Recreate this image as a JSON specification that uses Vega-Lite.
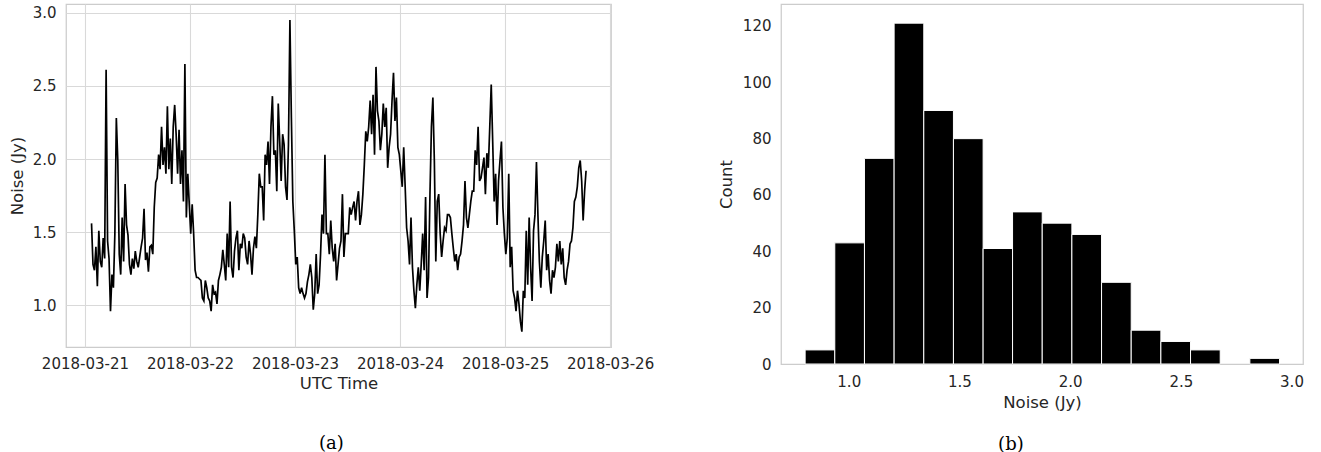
{
  "$schema": "https://vega.github.io/schema/vega-lite/v6.json",
  "padding": {"left": 8, "top": 3, "right": 5, "bottom": 5},
  "background": "white",
  "spacing": 170,
  "bounds": "flush",
  "datasets": {
    "series": [
      {"t":"2018-03-21T01:30Z","v":1.56},{"t":"2018-03-21T01:50Z","v":1.28},{"t":"2018-03-21T02:10Z","v":1.24},{"t":"2018-03-21T02:30Z","v":1.40},{"t":"2018-03-21T02:50Z","v":1.13},{"t":"2018-03-21T03:10Z","v":1.51},{"t":"2018-03-21T03:30Z","v":1.30},{"t":"2018-03-21T03:50Z","v":1.26},{"t":"2018-03-21T04:10Z","v":1.46},{"t":"2018-03-21T04:30Z","v":1.32},{"t":"2018-03-21T04:50Z","v":2.61},{"t":"2018-03-21T05:10Z","v":1.44},{"t":"2018-03-21T05:30Z","v":1.32},{"t":"2018-03-21T05:50Z","v":0.96},{"t":"2018-03-21T06:10Z","v":1.21},{"t":"2018-03-21T06:30Z","v":1.12},{"t":"2018-03-21T06:50Z","v":1.49},{"t":"2018-03-21T07:10Z","v":2.28},{"t":"2018-03-21T07:30Z","v":1.99},{"t":"2018-03-21T07:50Z","v":1.35},{"t":"2018-03-21T08:10Z","v":1.21},{"t":"2018-03-21T08:30Z","v":1.60},{"t":"2018-03-21T08:50Z","v":1.30},{"t":"2018-03-21T09:10Z","v":1.83},{"t":"2018-03-21T09:30Z","v":1.55},{"t":"2018-03-21T09:50Z","v":1.48},{"t":"2018-03-21T10:10Z","v":1.28},{"t":"2018-03-21T10:30Z","v":1.21},{"t":"2018-03-21T10:50Z","v":1.32},{"t":"2018-03-21T11:10Z","v":1.25},{"t":"2018-03-21T11:30Z","v":1.37},{"t":"2018-03-21T11:50Z","v":1.30},{"t":"2018-03-21T12:10Z","v":1.26},{"t":"2018-03-21T12:30Z","v":1.33},{"t":"2018-03-21T12:50Z","v":1.40},{"t":"2018-03-21T13:10Z","v":1.46},{"t":"2018-03-21T13:30Z","v":1.66},{"t":"2018-03-21T13:50Z","v":1.31},{"t":"2018-03-21T14:10Z","v":1.36},{"t":"2018-03-21T14:30Z","v":1.23},{"t":"2018-03-21T14:50Z","v":1.40},{"t":"2018-03-21T15:10Z","v":1.41},{"t":"2018-03-21T15:30Z","v":1.35},{"t":"2018-03-21T15:50Z","v":1.67},{"t":"2018-03-21T16:10Z","v":1.84},{"t":"2018-03-21T16:30Z","v":1.87},{"t":"2018-03-21T16:50Z","v":2.03},{"t":"2018-03-21T17:10Z","v":1.93},{"t":"2018-03-21T17:30Z","v":2.22},{"t":"2018-03-21T17:50Z","v":1.96},{"t":"2018-03-21T18:10Z","v":2.08},{"t":"2018-03-21T18:30Z","v":1.90},{"t":"2018-03-21T18:50Z","v":2.36},{"t":"2018-03-21T19:10Z","v":1.93},{"t":"2018-03-21T19:30Z","v":2.14},{"t":"2018-03-21T19:50Z","v":1.83},{"t":"2018-03-21T20:10Z","v":2.22},{"t":"2018-03-21T20:30Z","v":2.37},{"t":"2018-03-21T20:50Z","v":2.17},{"t":"2018-03-21T21:10Z","v":1.90},{"t":"2018-03-21T21:30Z","v":2.20},{"t":"2018-03-21T21:50Z","v":1.83},{"t":"2018-03-21T22:10Z","v":2.06},{"t":"2018-03-21T22:30Z","v":1.71},{"t":"2018-03-21T22:50Z","v":2.65},{"t":"2018-03-21T23:10Z","v":1.60},{"t":"2018-03-21T23:30Z","v":1.90},{"t":"2018-03-21T23:50Z","v":1.69},
      {"t":"2018-03-22T00:10Z","v":1.49},{"t":"2018-03-22T00:30Z","v":1.69},{"t":"2018-03-22T00:50Z","v":1.49},{"t":"2018-03-22T01:10Z","v":1.24},{"t":"2018-03-22T01:30Z","v":1.19},{"t":"2018-03-22T01:50Z","v":1.19},{"t":"2018-03-22T02:10Z","v":1.18},{"t":"2018-03-22T02:30Z","v":1.17},{"t":"2018-03-22T02:50Z","v":1.05},{"t":"2018-03-22T03:10Z","v":1.03},{"t":"2018-03-22T03:30Z","v":1.17},{"t":"2018-03-22T03:50Z","v":1.12},{"t":"2018-03-22T04:10Z","v":1.05},{"t":"2018-03-22T04:30Z","v":1.03},{"t":"2018-03-22T04:50Z","v":0.96},{"t":"2018-03-22T05:10Z","v":1.14},{"t":"2018-03-22T05:30Z","v":1.08},{"t":"2018-03-22T05:50Z","v":1.09},{"t":"2018-03-22T06:10Z","v":1.01},{"t":"2018-03-22T06:30Z","v":1.17},{"t":"2018-03-22T06:50Z","v":1.21},{"t":"2018-03-22T07:10Z","v":1.26},{"t":"2018-03-22T07:30Z","v":1.38},{"t":"2018-03-22T07:50Z","v":1.28},{"t":"2018-03-22T08:10Z","v":1.17},{"t":"2018-03-22T08:30Z","v":1.49},{"t":"2018-03-22T08:50Z","v":1.26},{"t":"2018-03-22T09:10Z","v":1.71},{"t":"2018-03-22T09:30Z","v":1.26},{"t":"2018-03-22T09:50Z","v":1.19},{"t":"2018-03-22T10:10Z","v":1.37},{"t":"2018-03-22T10:30Z","v":1.46},{"t":"2018-03-22T10:50Z","v":1.51},{"t":"2018-03-22T11:10Z","v":1.24},{"t":"2018-03-22T11:30Z","v":1.42},{"t":"2018-03-22T11:50Z","v":1.39},{"t":"2018-03-22T12:10Z","v":1.49},{"t":"2018-03-22T12:30Z","v":1.46},{"t":"2018-03-22T12:50Z","v":1.33},{"t":"2018-03-22T13:10Z","v":1.28},{"t":"2018-03-22T13:30Z","v":1.44},{"t":"2018-03-22T13:50Z","v":1.35},{"t":"2018-03-22T14:10Z","v":1.21},{"t":"2018-03-22T14:30Z","v":1.39},{"t":"2018-03-22T14:50Z","v":1.47},{"t":"2018-03-22T15:10Z","v":1.39},{"t":"2018-03-22T15:30Z","v":1.62},{"t":"2018-03-22T15:50Z","v":1.90},{"t":"2018-03-22T16:10Z","v":1.81},{"t":"2018-03-22T16:30Z","v":1.81},{"t":"2018-03-22T16:50Z","v":1.58},{"t":"2018-03-22T17:10Z","v":2.03},{"t":"2018-03-22T17:30Z","v":1.96},{"t":"2018-03-22T17:50Z","v":2.12},{"t":"2018-03-22T18:10Z","v":1.83},{"t":"2018-03-22T18:30Z","v":2.22},{"t":"2018-03-22T18:50Z","v":2.43},{"t":"2018-03-22T19:10Z","v":2.03},{"t":"2018-03-22T19:30Z","v":2.06},{"t":"2018-03-22T19:50Z","v":1.78},{"t":"2018-03-22T20:10Z","v":2.38},{"t":"2018-03-22T20:30Z","v":2.12},{"t":"2018-03-22T20:50Z","v":1.85},{"t":"2018-03-22T21:10Z","v":2.17},{"t":"2018-03-22T21:30Z","v":2.10},{"t":"2018-03-22T21:50Z","v":1.81},{"t":"2018-03-22T22:10Z","v":1.72},{"t":"2018-03-22T22:30Z","v":2.10},{"t":"2018-03-22T22:50Z","v":2.95},{"t":"2018-03-22T23:10Z","v":2.28},{"t":"2018-03-22T23:30Z","v":1.71},{"t":"2018-03-22T23:50Z","v":1.51},
      {"t":"2018-03-23T00:10Z","v":1.28},{"t":"2018-03-23T00:30Z","v":1.33},{"t":"2018-03-23T00:50Z","v":1.12},{"t":"2018-03-23T01:10Z","v":1.08},{"t":"2018-03-23T01:30Z","v":1.12},{"t":"2018-03-23T01:50Z","v":1.08},{"t":"2018-03-23T02:10Z","v":1.05},{"t":"2018-03-23T02:30Z","v":1.08},{"t":"2018-03-23T02:50Z","v":1.16},{"t":"2018-03-23T03:10Z","v":1.21},{"t":"2018-03-23T03:30Z","v":1.28},{"t":"2018-03-23T03:50Z","v":1.19},{"t":"2018-03-23T04:10Z","v":0.97},{"t":"2018-03-23T04:30Z","v":1.08},{"t":"2018-03-23T04:50Z","v":1.35},{"t":"2018-03-23T05:10Z","v":1.08},{"t":"2018-03-23T05:30Z","v":1.14},{"t":"2018-03-23T05:50Z","v":1.35},{"t":"2018-03-23T06:10Z","v":1.62},{"t":"2018-03-23T06:30Z","v":1.49},{"t":"2018-03-23T06:50Z","v":2.03},{"t":"2018-03-23T07:10Z","v":1.49},{"t":"2018-03-23T07:30Z","v":1.49},{"t":"2018-03-23T07:50Z","v":1.35},{"t":"2018-03-23T08:10Z","v":1.58},{"t":"2018-03-23T08:30Z","v":1.39},{"t":"2018-03-23T08:50Z","v":1.30},{"t":"2018-03-23T09:10Z","v":1.42},{"t":"2018-03-23T09:30Z","v":1.17},{"t":"2018-03-23T09:50Z","v":1.28},{"t":"2018-03-23T10:10Z","v":1.39},{"t":"2018-03-23T10:30Z","v":1.44},{"t":"2018-03-23T10:50Z","v":1.76},{"t":"2018-03-23T11:10Z","v":1.33},{"t":"2018-03-23T11:30Z","v":1.49},{"t":"2018-03-23T11:50Z","v":1.49},{"t":"2018-03-23T12:10Z","v":1.49},{"t":"2018-03-23T12:30Z","v":1.67},{"t":"2018-03-23T12:50Z","v":1.62},{"t":"2018-03-23T13:10Z","v":1.67},{"t":"2018-03-23T13:30Z","v":1.71},{"t":"2018-03-23T13:50Z","v":1.58},{"t":"2018-03-23T14:10Z","v":1.71},{"t":"2018-03-23T14:30Z","v":1.78},{"t":"2018-03-23T14:50Z","v":1.55},{"t":"2018-03-23T15:10Z","v":1.62},{"t":"2018-03-23T15:30Z","v":1.76},{"t":"2018-03-23T15:50Z","v":1.96},{"t":"2018-03-23T16:10Z","v":2.19},{"t":"2018-03-23T16:30Z","v":2.12},{"t":"2018-03-23T16:50Z","v":2.22},{"t":"2018-03-23T17:10Z","v":2.40},{"t":"2018-03-23T17:30Z","v":2.17},{"t":"2018-03-23T17:50Z","v":2.44},{"t":"2018-03-23T18:10Z","v":2.03},{"t":"2018-03-23T18:30Z","v":2.63},{"t":"2018-03-23T18:50Z","v":2.33},{"t":"2018-03-23T19:10Z","v":2.26},{"t":"2018-03-23T19:30Z","v":2.06},{"t":"2018-03-23T19:50Z","v":2.17},{"t":"2018-03-23T20:10Z","v":2.38},{"t":"2018-03-23T20:30Z","v":2.22},{"t":"2018-03-23T20:50Z","v":2.35},{"t":"2018-03-23T21:10Z","v":1.94},{"t":"2018-03-23T21:30Z","v":2.08},{"t":"2018-03-23T21:50Z","v":2.17},{"t":"2018-03-23T22:10Z","v":2.40},{"t":"2018-03-23T22:30Z","v":2.59},{"t":"2018-03-23T22:50Z","v":2.26},{"t":"2018-03-23T23:10Z","v":2.42},{"t":"2018-03-23T23:30Z","v":2.08},{"t":"2018-03-23T23:50Z","v":2.03},
      {"t":"2018-03-24T00:10Z","v":1.92},{"t":"2018-03-24T00:30Z","v":1.81},{"t":"2018-03-24T00:50Z","v":2.08},{"t":"2018-03-24T01:10Z","v":1.81},{"t":"2018-03-24T01:30Z","v":1.53},{"t":"2018-03-24T01:50Z","v":1.44},{"t":"2018-03-24T02:10Z","v":1.28},{"t":"2018-03-24T02:30Z","v":1.60},{"t":"2018-03-24T02:50Z","v":1.26},{"t":"2018-03-24T03:10Z","v":1.10},{"t":"2018-03-24T03:30Z","v":0.98},{"t":"2018-03-24T03:50Z","v":1.14},{"t":"2018-03-24T04:10Z","v":1.26},{"t":"2018-03-24T04:30Z","v":1.10},{"t":"2018-03-24T04:50Z","v":1.28},{"t":"2018-03-24T05:10Z","v":1.49},{"t":"2018-03-24T05:30Z","v":1.24},{"t":"2018-03-24T05:50Z","v":1.74},{"t":"2018-03-24T06:10Z","v":1.05},{"t":"2018-03-24T06:30Z","v":1.19},{"t":"2018-03-24T06:50Z","v":1.76},{"t":"2018-03-24T07:10Z","v":2.22},{"t":"2018-03-24T07:30Z","v":2.42},{"t":"2018-03-24T07:50Z","v":1.99},{"t":"2018-03-24T08:10Z","v":1.30},{"t":"2018-03-24T08:30Z","v":1.71},{"t":"2018-03-24T08:50Z","v":1.76},{"t":"2018-03-24T09:10Z","v":1.49},{"t":"2018-03-24T09:30Z","v":1.33},{"t":"2018-03-24T09:50Z","v":1.44},{"t":"2018-03-24T10:10Z","v":1.53},{"t":"2018-03-24T10:30Z","v":1.51},{"t":"2018-03-24T10:50Z","v":1.62},{"t":"2018-03-24T11:10Z","v":1.62},{"t":"2018-03-24T11:30Z","v":1.60},{"t":"2018-03-24T11:50Z","v":1.49},{"t":"2018-03-24T12:10Z","v":1.39},{"t":"2018-03-24T12:30Z","v":1.30},{"t":"2018-03-24T12:50Z","v":1.35},{"t":"2018-03-24T13:10Z","v":1.24},{"t":"2018-03-24T13:30Z","v":1.33},{"t":"2018-03-24T13:50Z","v":1.35},{"t":"2018-03-24T14:10Z","v":1.44},{"t":"2018-03-24T14:30Z","v":1.55},{"t":"2018-03-24T14:50Z","v":1.85},{"t":"2018-03-24T15:10Z","v":1.60},{"t":"2018-03-24T15:30Z","v":1.53},{"t":"2018-03-24T15:50Z","v":1.62},{"t":"2018-03-24T16:10Z","v":1.71},{"t":"2018-03-24T16:30Z","v":1.78},{"t":"2018-03-24T16:50Z","v":1.78},{"t":"2018-03-24T17:10Z","v":2.06},{"t":"2018-03-24T17:30Z","v":1.96},{"t":"2018-03-24T17:50Z","v":2.22},{"t":"2018-03-24T18:10Z","v":1.85},{"t":"2018-03-24T18:30Z","v":1.87},{"t":"2018-03-24T18:50Z","v":1.94},{"t":"2018-03-24T19:10Z","v":2.01},{"t":"2018-03-24T19:30Z","v":1.76},{"t":"2018-03-24T19:50Z","v":2.04},{"t":"2018-03-24T20:10Z","v":1.94},{"t":"2018-03-24T20:30Z","v":2.22},{"t":"2018-03-24T20:50Z","v":2.51},{"t":"2018-03-24T21:10Z","v":2.12},{"t":"2018-03-24T21:30Z","v":1.71},{"t":"2018-03-24T21:50Z","v":1.90},{"t":"2018-03-24T22:10Z","v":1.55},{"t":"2018-03-24T22:30Z","v":1.85},{"t":"2018-03-24T22:50Z","v":1.99},{"t":"2018-03-24T23:10Z","v":2.12},{"t":"2018-03-24T23:30Z","v":1.67},{"t":"2018-03-24T23:50Z","v":1.49},
      {"t":"2018-03-25T00:10Z","v":1.35},{"t":"2018-03-25T00:30Z","v":1.46},{"t":"2018-03-25T00:50Z","v":1.90},{"t":"2018-03-25T01:10Z","v":1.26},{"t":"2018-03-25T01:30Z","v":1.40},{"t":"2018-03-25T01:50Z","v":1.10},{"t":"2018-03-25T02:10Z","v":1.05},{"t":"2018-03-25T02:30Z","v":0.96},{"t":"2018-03-25T02:50Z","v":1.10},{"t":"2018-03-25T03:10Z","v":1.01},{"t":"2018-03-25T03:30Z","v":0.89},{"t":"2018-03-25T03:50Z","v":0.82},{"t":"2018-03-25T04:10Z","v":1.10},{"t":"2018-03-25T04:30Z","v":1.05},{"t":"2018-03-25T04:50Z","v":1.51},{"t":"2018-03-25T05:10Z","v":1.14},{"t":"2018-03-25T05:30Z","v":1.60},{"t":"2018-03-25T05:50Z","v":1.26},{"t":"2018-03-25T06:10Z","v":1.03},{"t":"2018-03-25T06:30Z","v":1.51},{"t":"2018-03-25T06:50Z","v":1.62},{"t":"2018-03-25T07:10Z","v":1.98},{"t":"2018-03-25T07:30Z","v":1.62},{"t":"2018-03-25T07:50Z","v":1.30},{"t":"2018-03-25T08:10Z","v":1.12},{"t":"2018-03-25T08:30Z","v":1.33},{"t":"2018-03-25T08:50Z","v":1.44},{"t":"2018-03-25T09:10Z","v":1.58},{"t":"2018-03-25T09:30Z","v":1.24},{"t":"2018-03-25T09:50Z","v":1.35},{"t":"2018-03-25T10:10Z","v":1.17},{"t":"2018-03-25T10:30Z","v":1.08},{"t":"2018-03-25T10:50Z","v":1.24},{"t":"2018-03-25T11:10Z","v":1.19},{"t":"2018-03-25T11:30Z","v":1.26},{"t":"2018-03-25T11:50Z","v":1.42},{"t":"2018-03-25T12:10Z","v":1.30},{"t":"2018-03-25T12:30Z","v":1.44},{"t":"2018-03-25T12:50Z","v":1.28},{"t":"2018-03-25T13:10Z","v":1.39},{"t":"2018-03-25T13:30Z","v":1.19},{"t":"2018-03-25T13:50Z","v":1.14},{"t":"2018-03-25T14:10Z","v":1.24},{"t":"2018-03-25T14:30Z","v":1.30},{"t":"2018-03-25T14:50Z","v":1.42},{"t":"2018-03-25T15:10Z","v":1.44},{"t":"2018-03-25T15:30Z","v":1.53},{"t":"2018-03-25T15:50Z","v":1.71},{"t":"2018-03-25T16:10Z","v":1.74},{"t":"2018-03-25T16:30Z","v":1.81},{"t":"2018-03-25T16:50Z","v":1.94},{"t":"2018-03-25T17:10Z","v":1.99},{"t":"2018-03-25T17:30Z","v":1.85},{"t":"2018-03-25T17:50Z","v":1.58},{"t":"2018-03-25T18:10Z","v":1.78},{"t":"2018-03-25T18:30Z","v":1.92}
    ],
    "hist": [
      {"lo":0.803,"hi":0.937,"n":5},{"lo":0.937,"hi":1.071,"n":43},{"lo":1.071,"hi":1.205,"n":73},{"lo":1.205,"hi":1.339,"n":121},{"lo":1.339,"hi":1.473,"n":90},{"lo":1.473,"hi":1.607,"n":80},{"lo":1.607,"hi":1.740,"n":41},{"lo":1.740,"hi":1.874,"n":54},{"lo":1.874,"hi":2.008,"n":50},{"lo":2.008,"hi":2.142,"n":46},{"lo":2.142,"hi":2.276,"n":29},{"lo":2.276,"hi":2.410,"n":12},{"lo":2.410,"hi":2.544,"n":8},{"lo":2.544,"hi":2.678,"n":5},{"lo":2.812,"hi":2.946,"n":2}
    ]
  },
  "hconcat": [
    {
      "width": 545,
      "height": 343,
      "title": {"text": "(a)", "orient": "bottom", "anchor": "middle", "frame": "bounds", "offset": 43},
      "data": {"name": "series"},
      "mark": {"type": "line", "color": "#000000", "strokeWidth": 1.7},
      "encoding": {
        "x": {
          "field": "t", "type": "temporal", "title": "UTC Time",
          "scale": {"type": "utc", "domain": [{"year": 2018, "month": 3, "date": 20, "hours": 19, "minutes": 40, "utc": true}, {"year": 2018, "month": 3, "date": 26, "hours": 0, "minutes": 12, "utc": true}]},
          "axis": {
            "values": [
              {"year": 2018, "month": 3, "date": 21, "utc": true},
              {"year": 2018, "month": 3, "date": 22, "utc": true},
              {"year": 2018, "month": 3, "date": 23, "utc": true},
              {"year": 2018, "month": 3, "date": 24, "utc": true},
              {"year": 2018, "month": 3, "date": 25, "utc": true},
              {"year": 2018, "month": 3, "date": 26, "utc": true}
            ],
            "labelExpr": "utcFormat(datum.value, '%Y-%m-%d')", "grid": true, "titlePadding": 4, "labelPadding": 9
          }
        },
        "y": {
          "field": "v", "type": "quantitative", "title": "Noise (Jy)",
          "scale": {"domain": [0.715, 3.06], "nice": false, "zero": false},
          "axis": {"values": [1.0, 1.5, 2.0, 2.5, 3.0], "format": ".1f", "grid": true, "titlePadding": 7}
        }
      }
    },
    {
      "width": 522,
      "height": 360,
      "title": {"text": "(b)", "orient": "bottom", "anchor": "middle", "frame": "bounds", "offset": 25},
      "data": {"name": "hist"},
      "mark": {"type": "bar", "fill": "#000000", "stroke": "#ffffff", "strokeWidth": 1},
      "encoding": {
        "x": {
          "field": "lo", "type": "quantitative", "title": "Noise (Jy)",
          "scale": {"domain": [0.694, 3.052], "nice": false, "zero": false},
          "axis": {"values": [1.0, 1.5, 2.0, 2.5, 3.0], "format": ".1f", "grid": false, "titlePadding": 5}
        },
        "x2": {"field": "hi"},
        "y": {
          "field": "n", "type": "quantitative", "title": "Count",
          "scale": {"domain": [0, 127.8], "nice": false},
          "axis": {"values": [0, 20, 40, 60, 80, 100, 120], "grid": false, "titlePadding": 8}
        },
        "y2": {"datum": 0}
      }
    }
  ],
  "config": {
    "font": "DejaVu Sans",
    "view": {"stroke": "#cccccc", "strokeWidth": 1.25},
    "axis": {
      "labelFont": "DejaVu Sans", "titleFont": "DejaVu Sans",
      "labelFontSize": 15, "titleFontSize": 16.5,
      "labelColor": "#262626", "titleColor": "#262626", "titleFontWeight": "normal",
      "ticks": false, "domain": false, "labelPadding": 10,
      "labelFlush": false, "labelOverlap": false, "labelBound": false,
      "gridColor": "#d9d9d9", "gridWidth": 1.1, "gridOpacity": 1
    },
    "title": {"font": "DejaVu Serif", "fontSize": 18, "fontWeight": "normal", "color": "#000000"}
  }
}
